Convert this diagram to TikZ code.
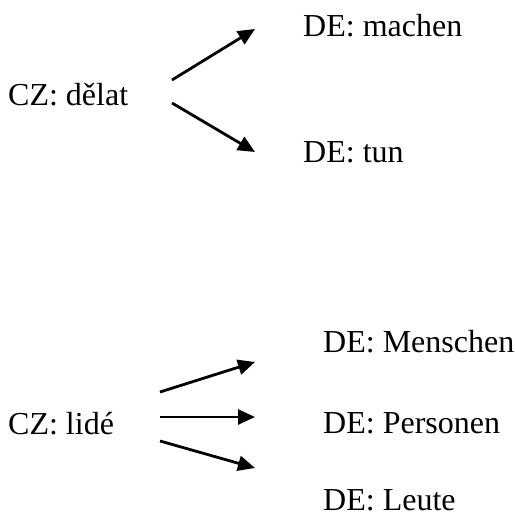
\documentclass[tikz,border=0pt]{standalone}
\usepackage{fontspec}
\setmainfont{Liberation Serif}
\usetikzlibrary{arrows.meta}
\begin{document}
\begin{tikzpicture}[x=1pt,y=-1pt,
  word/.style={anchor=base west,inner sep=0pt,font=\fontsize{32}{38}\selectfont},
  link/.style={line width=2.8pt,-{Triangle[length=17pt,width=15pt]}}]
\useasboundingbox (0,0) rectangle (515,514);
\node[word] (cz1) at (8,105) {CZ: dělat};
\node[word] (de1) at (303,37) {DE: machen};
\node[word] (de2) at (303,162) {DE: tun};
\node[word] (cz2) at (8,434) {CZ: lidé};
\node[word] (de3) at (323,352) {DE: Menschen};
\node[word] (de4) at (323,433) {DE: Personen};
\node[word] (de5) at (323,510) {DE: Leute};
\coordinate (a1s) at (172,80);  \coordinate (a1e) at (255,29);
\coordinate (a2s) at (172,103); \coordinate (a2e) at (255,152);
\coordinate (b1s) at (160,392); \coordinate (b1e) at (255,362);
\coordinate (b2s) at (160,417); \coordinate (b2e) at (255,417);
\coordinate (b3s) at (160,441); \coordinate (b3e) at (255,468);
\draw[link] (a1s) -- (a1e);
\draw[link] (a2s) -- (a2e);
\draw[link] (b1s) -- (b1e);
\draw[link] (b2s) -- (b2e);
\draw[link] (b3s) -- (b3e);
\end{tikzpicture}
\end{document}
